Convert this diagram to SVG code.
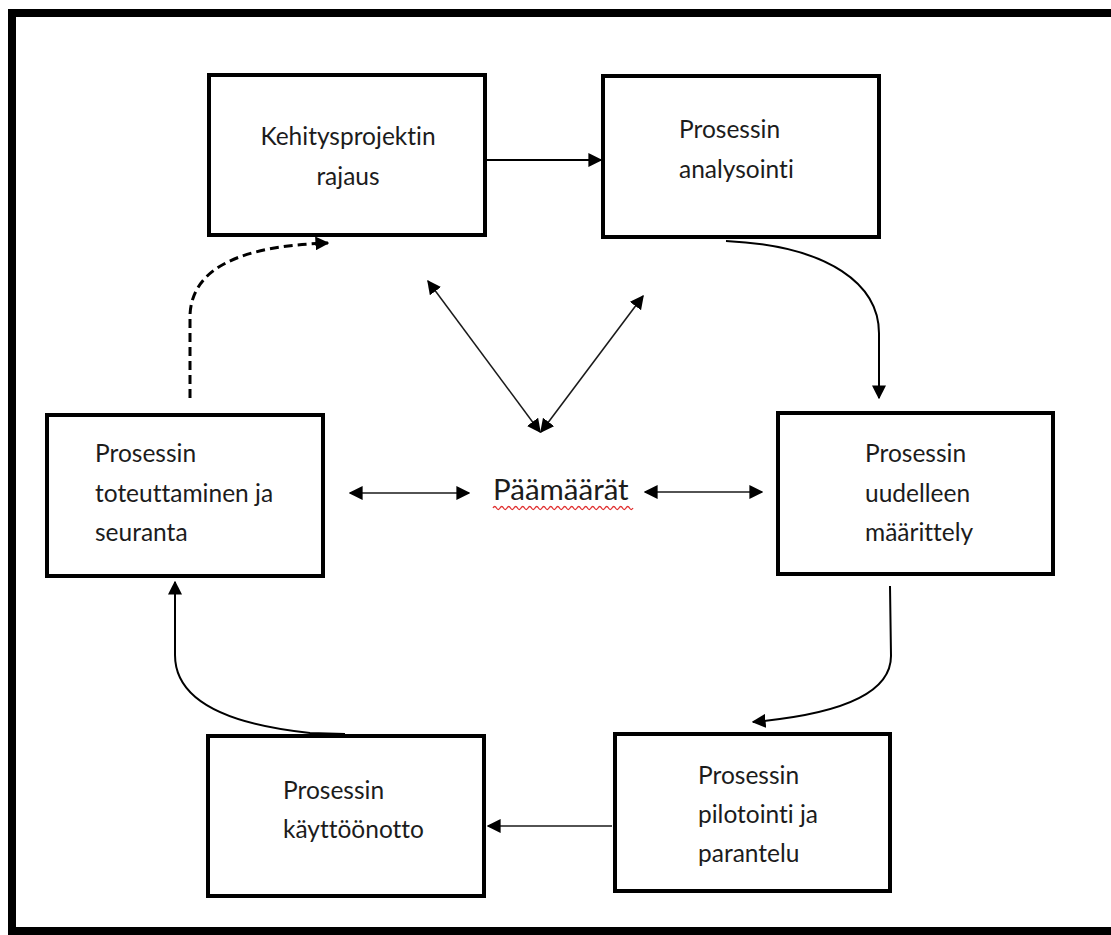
<svg xmlns="http://www.w3.org/2000/svg" width="1111" height="935" viewBox="0 0 1111 935">
  <style>
    text { font-variant-ligatures: none; font-feature-settings: "liga" 0, "dlig" 0; }
    .box { fill: #ffffff; stroke: #000000; stroke-width: 4; }
    .lbl { font-family: Lato, "Liberation Sans", sans-serif; font-size: 24.5px; fill: #1c1c1c; }
    .goal { font-family: Lato, "Liberation Sans", sans-serif; font-size: 29.5px; fill: #1c1c1c; }
    .con { fill: none; stroke: #000000; stroke-width: 2; }
    .thin { fill: none; stroke: #1a1a1a; stroke-width: 1.5; }
    .dash { fill: none; stroke: #000000; stroke-width: 3; stroke-dasharray: 9 5; }
  </style>
  <defs>
    <marker id="head" viewBox="0 0 10 10" refX="9" refY="5" markerWidth="14" markerHeight="14" markerUnits="userSpaceOnUse" orient="auto-start-reverse">
      <path d="M0,0 L10,5 L0,10 Z" fill="#000000"/>
    </marker>
  </defs>

  <rect width="1111" height="935" fill="#ffffff"/>
  <!-- page frame -->
  <path d="M1115,13 L12,13 L12,931 L1115,931" fill="none" stroke="#000000" stroke-width="8"/>

  <!-- connectors -->
  <g id="connectors">
    <line class="con" x1="487" y1="160" x2="601" y2="160" marker-end="url(#head)"/>
    <path class="con" d="M726,241 C830,246 880,285 879,335 L879,398" marker-end="url(#head)"/>
    <path class="con" d="M890,586 L891,656 C891,700 820,716 753,722" marker-end="url(#head)"/>
    <line class="thin" x1="612" y1="826" x2="488" y2="826" marker-end="url(#head)"/>
    <path class="con" d="M345,734 L310,733 C225,724 175,700 175,655 L175,582" marker-end="url(#head)"/>
    <path class="dash" d="M190,398 L190,315 C192,268 240,246 328,243" marker-end="url(#head)"/>
    <line class="thin" x1="428" y1="281" x2="540" y2="432" marker-start="url(#head)" marker-end="url(#head)"/>
    <line class="thin" x1="643" y1="296" x2="541" y2="432" marker-start="url(#head)" marker-end="url(#head)"/>
    <line class="thin" x1="350" y1="493" x2="469" y2="493" marker-start="url(#head)" marker-end="url(#head)"/>
    <line class="thin" x1="645" y1="492" x2="762" y2="492" marker-start="url(#head)" marker-end="url(#head)"/>
  </g>

  <g id="rajaus">
    <rect class="box" x="209" y="75" width="276" height="160"/>
    <text class="lbl" x="348" y="145" text-anchor="middle">Kehitysprojektin</text>
    <text class="lbl" x="348" y="185" text-anchor="middle">rajaus</text>
  </g>

  <g id="analysointi">
    <rect class="box" x="603" y="76" width="276" height="161"/>
    <text class="lbl" x="679" y="138">Prosessin</text>
    <text class="lbl" x="679" y="178">analysointi</text>
  </g>

  <g id="maarittely">
    <rect class="box" x="778" y="413" width="275" height="161"/>
    <text class="lbl" x="865" y="462">Prosessin</text>
    <text class="lbl" x="865" y="502">uudelleen</text>
    <text class="lbl" x="865" y="541">määrittely</text>
  </g>

  <g id="pilotointi">
    <rect class="box" x="615" y="734" width="275" height="157"/>
    <text class="lbl" x="698" y="784">Prosessin</text>
    <text class="lbl" x="698" y="823">pilotointi ja</text>
    <text class="lbl" x="698" y="862">parantelu</text>
  </g>

  <g id="kayttoonotto">
    <rect class="box" x="208" y="736" width="276" height="160"/>
    <text class="lbl" x="283" y="799">Prosessin</text>
    <text class="lbl" x="283" y="838">käyttöönotto</text>
  </g>

  <g id="toteuttaminen">
    <rect class="box" x="47" y="415" width="276" height="161"/>
    <text class="lbl" x="95" y="462">Prosessin</text>
    <text class="lbl" x="95" y="502">toteuttaminen ja</text>
    <text class="lbl" x="95" y="541">seuranta</text>
  </g>

  <g id="paamaarat">
    <text class="goal" x="493" y="500">Päämäärät</text>
    <path d="M493,508 q1.75,-3 3.5,0 t3.5,0 t3.5,0 t3.5,0 t3.5,0 t3.5,0 t3.5,0 t3.5,0 t3.5,0 t3.5,0 t3.5,0 t3.5,0 t3.5,0 t3.5,0 t3.5,0 t3.5,0 t3.5,0 t3.5,0 t3.5,0 t3.5,0 t3.5,0 t3.5,0 t3.5,0 t3.5,0 t3.5,0 t3.5,0 t3.5,0 t3.5,0 t3.5,0 t3.5,0 t3.5,0 t3.5,0 t3.5,0 t3.5,0 t3.5,0 t3.5,0 t3.5,0 t3.5,0 t3.5,0 t3.5,0" fill="none" stroke="#e03030" stroke-width="1.3"/>
  </g>
</svg>
